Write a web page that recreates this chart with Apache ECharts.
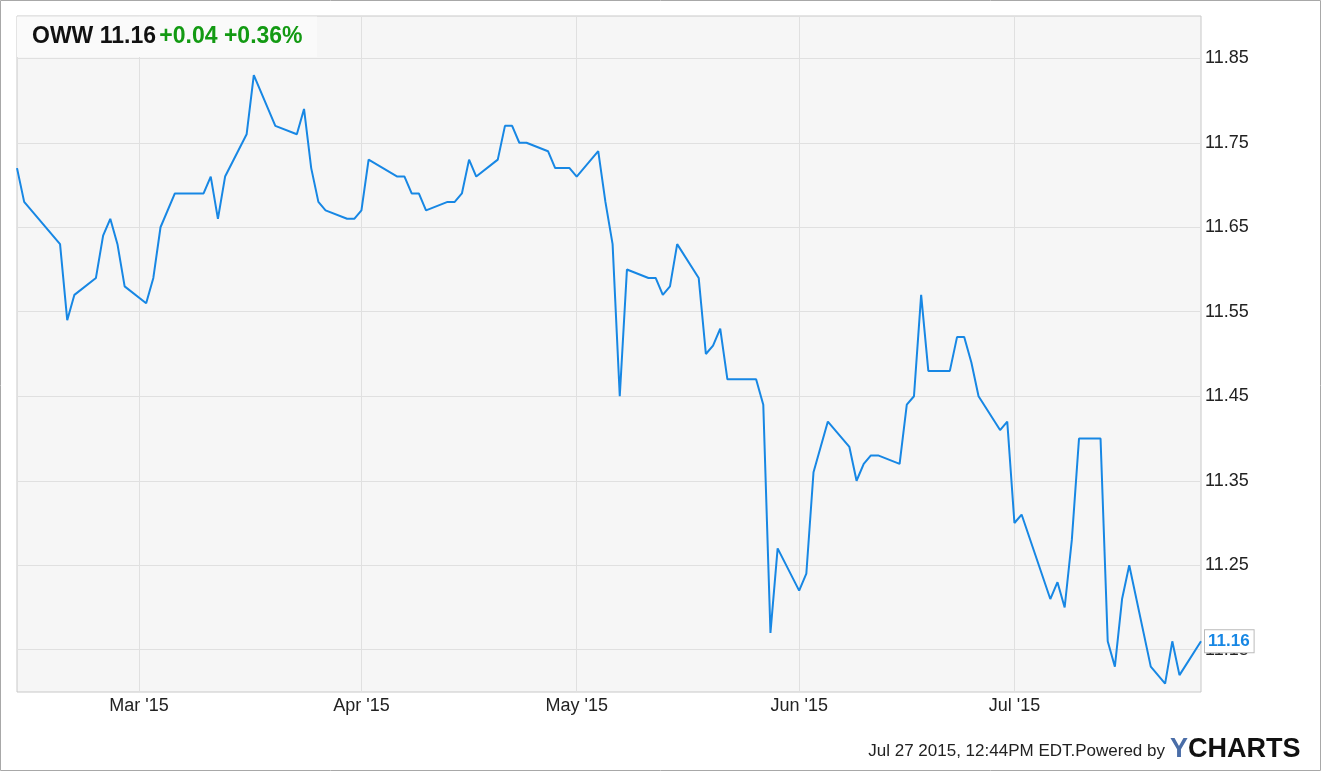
<!DOCTYPE html>
<html><head><meta charset="utf-8">
<script src="https://cdn.jsdelivr.net/npm/echarts@6/dist/echarts.min.js"></script>
<style>html,body{margin:0;padding:0;background:#fff}#c{width:1321px;height:771px}</style>
</head><body><div id="c"></div>
<script>
const dates = [
 '2015-02-12','2015-02-13','2015-02-18','2015-02-19','2015-02-20','2015-02-23','2015-02-24','2015-02-25','2015-02-26','2015-02-27',
 '2015-03-02','2015-03-03','2015-03-04','2015-03-06','2015-03-09','2015-03-10','2015-03-11','2015-03-12','2015-03-13','2015-03-16',
 '2015-03-17','2015-03-20','2015-03-23','2015-03-24','2015-03-25','2015-03-26','2015-03-27','2015-03-30','2015-03-31','2015-04-01',
 '2015-04-02','2015-04-06','2015-04-07','2015-04-08','2015-04-09','2015-04-10','2015-04-13','2015-04-14','2015-04-15','2015-04-16',
 '2015-04-17','2015-04-20','2015-04-21','2015-04-22','2015-04-23','2015-04-24','2015-04-27','2015-04-28','2015-04-29','2015-04-30',
 '2015-05-01','2015-05-04','2015-05-05','2015-05-06','2015-05-07','2015-05-08','2015-05-11','2015-05-12','2015-05-13','2015-05-14',
 '2015-05-15','2015-05-18','2015-05-19','2015-05-20','2015-05-21','2015-05-22','2015-05-26','2015-05-27','2015-05-28','2015-05-29',
 '2015-06-01','2015-06-02','2015-06-03','2015-06-05','2015-06-08','2015-06-09','2015-06-10','2015-06-11','2015-06-12','2015-06-15',
 '2015-06-16','2015-06-17','2015-06-18','2015-06-19','2015-06-22','2015-06-23','2015-06-24','2015-06-25','2015-06-26','2015-06-29',
 '2015-06-30','2015-07-01','2015-07-02','2015-07-06','2015-07-07','2015-07-08','2015-07-09','2015-07-10','2015-07-13','2015-07-14',
 '2015-07-15','2015-07-16','2015-07-17','2015-07-20','2015-07-22','2015-07-23','2015-07-24','2015-07-27'
];
const prices = [
 11.72,11.68,11.63,11.54,11.57,11.59,11.64,11.66,11.63,11.58,
 11.56,11.59,11.65,11.69,11.69,11.69,11.71,11.66,11.71,11.76,
 11.83,11.77,11.76,11.79,11.72,11.68,11.67,11.66,11.66,11.67,
 11.73,11.71,11.71,11.69,11.69,11.67,11.68,11.68,11.69,11.73,
 11.71,11.73,11.77,11.77,11.75,11.75,11.74,11.72,11.72,11.72,
 11.71,11.74,11.68,11.63,11.45,11.60,11.59,11.59,11.57,11.58,
 11.63,11.59,11.50,11.51,11.53,11.47,11.47,11.44,11.17,11.27,
 11.22,11.24,11.36,11.42,11.39,11.35,11.37,11.38,11.38,11.37,
 11.44,11.45,11.57,11.48,11.48,11.52,11.52,11.49,11.45,11.41,
 11.42,11.30,11.31,11.21,11.23,11.20,11.28,11.40,11.40,11.16,
 11.13,11.21,11.25,11.13,11.11,11.16,11.12,11.16
];
const yTicks = [11.15,11.25,11.35,11.45,11.55,11.65,11.75,11.85];
const monthTicks = ['2015-03-01','2015-04-01','2015-05-01','2015-06-01','2015-07-01'];
const monthNames = ['Jan','Feb','Mar','Apr','May','Jun','Jul','Aug','Sep','Oct','Nov','Dec'];
const ticker = 'OWW', lastPrice = '11.16', change = '+0.04', changePct = '+0.36%';
const footerText = 'Jul 27 2015, 12:44PM EDT.Powered by';

function ts(s){const p=s.split('-');return new Date(+p[0],+p[1]-1,+p[2]).getTime();}
const FONT = '"Liberation Sans", Arial, sans-serif';
const LINE = '#1787e4';

const chart = echarts.init(document.getElementById('c'), null, {renderer:'canvas'});
chart.setOption({
  animation: false,
  grid: {left:17, right:120, top:16, height:676, show:true, backgroundColor:'#f6f6f6', borderColor:'#c8c8c8', borderWidth:1},
  xAxis: {
    type:'value', min: ts(dates[0]), max: ts(dates[dates.length-1]),
    axisLine:{show:false},
    axisTick:{show:false, customValues: monthTicks.map(ts)},
    axisLabel:{customValues: monthTicks.map(ts), color:'#222', fontSize:18, fontFamily:FONT, margin:5,
      formatter: v => { const d=new Date(v); return monthNames[d.getMonth()] + " '" + String(d.getFullYear()).slice(2); }},
    splitLine:{show:true, lineStyle:{color:'#e0e0e0', width:1}}
  },
  yAxis: {
    type:'value', position:'right', min:11.10, max:11.90,
    axisLine:{show:false},
    axisTick:{show:false, customValues: yTicks},
    axisLabel:{customValues: yTicks, color:'#222', fontSize:18, fontFamily:FONT, margin:4,
      formatter: v => v.toFixed(2)},
    splitLine:{show:true, lineStyle:{color:'#e0e0e0', width:1}}
  },
  series: [{
    type:'line', showSymbol:false, symbol:'none',
    data: dates.map((d,i)=>[ts(d), prices[i]]),
    lineStyle:{color:LINE, width:2},
    itemStyle:{color:LINE},
    endLabel:{show:true, formatter: p => p.value[1].toFixed(2), color:LINE, fontWeight:'bold', fontSize:17,
      fontFamily:FONT, backgroundColor:'#fff', borderColor:'#bbb', borderWidth:1, padding:[3,4,2,3], distance:4}
  }],
  graphic: [
    {type:'rect', silent:true, z:0, shape:{x:0.5, y:0.5, width:1320, height:770}, style:{fill:'none', stroke:'#a8a8a8', lineWidth:1}},
    {type:'rect', silent:true, z:5, shape:{x:17, y:16.5, width:300, height:40.5}, style:{fill:'#fafafa'}},
    {type:'text', silent:true, z:6, x:32, y:37, style:{
      text: '{k|' + ticker + ' ' + lastPrice + '} {g|' + change + ' ' + changePct + '}',
      verticalAlign:'middle', rich:{
        k:{fontSize:23, fontWeight:'bold', fill:'#111', fontFamily:FONT},
        g:{fontSize:23, fontWeight:'bold', fill:'#139a13', fontFamily:FONT}
      }}},
    {type:'text', silent:true, z:6, x:1165, y:751, style:{text:footerText, align:'right', verticalAlign:'middle',
      fontSize:17, fill:'#222', fontFamily:FONT}},
    {type:'text', silent:true, z:6, x:1170, y:750, style:{text:'{y|Y}{c|CHARTS}', verticalAlign:'middle',
      rich:{ y:{fontSize:27, fontWeight:'bold', fill:'#4a6da7', fontFamily:FONT},
             c:{fontSize:27, fontWeight:'bold', fill:'#111', fontFamily:FONT}}}}
  ]
});
</script></body></html>
